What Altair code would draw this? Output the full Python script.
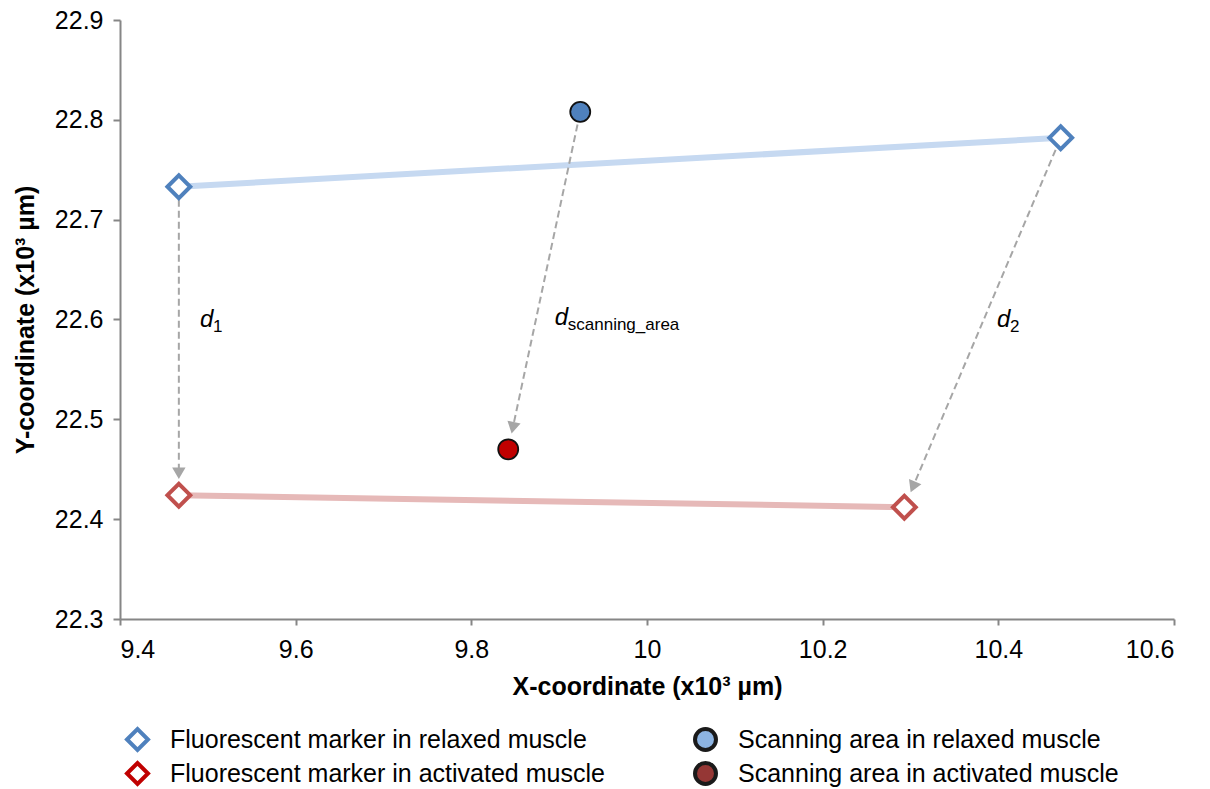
import math

import altair as alt
import pandas as pd

FONT = "Liberation Sans"

# Fluorescent marker positions (x10^3 µm)
relaxed_x = [9.467, 10.471]
relaxed_y = [22.733, 22.782]
activated_x = [9.467, 10.293]
activated_y = [22.424, 22.412]

# Scanning area centre: relaxed, activated
scan_x = [9.924, 9.842]
scan_y = [22.808, 22.470]

# Displacement labels (italic d + subscript)
label_x = [9.491, 9.895, 10.3985]
label_y = [22.592, 22.594, 22.592]
label_sub = ["1", "scanning_area", "2"]

# Legend entries; the legend grid fills column by column
legend_names = [
    "Fluorescent marker in relaxed muscle",
    "Fluorescent marker in activated muscle",
    "Scanning area in relaxed muscle",
    "Scanning area in activated muscle",
]
legend_shape = ["diamond", "diamond", "circle", "circle"]
legend_fill = ["white", "white", "#8db4e2", "#953735"]
legend_stroke = ["#4f81bd", "#c00000", "#1a1a1a", "#1a1a1a"]
legend_width = [4, 4, 1.5, 1.5]

x_ticks = [9.4, 9.6, 9.8, 10.0, 10.2, 10.4, 10.6]
y_ticks = [22.3, 22.4, 22.5, 22.6, 22.7, 22.8, 22.9]

W, H = 1054, 599
X_DOM = (9.4, 10.6)
Y_DOM = (22.3, 22.9)
px_x = W / (X_DOM[1] - X_DOM[0])
px_y = H / (Y_DOM[1] - Y_DOM[0])

# Displacement arrows: relaxed -> activated, trimmed around the markers
arrow_from = [(relaxed_x[0], relaxed_y[0]), (scan_x[0], scan_y[0]), (relaxed_x[1], relaxed_y[1])]
arrow_to = [(activated_x[0], activated_y[0]), (scan_x[1], scan_y[1]), (activated_x[1], activated_y[1])]
START_GAP, TIP_GAP, HEAD = 13, 16, 12

rows_line, rows_head = [], []
for (x0, y0), (x1, y1) in zip(arrow_from, arrow_to):
    dxp = (x1 - x0) * px_x
    dyp = -(y1 - y0) * px_y
    length = math.hypot(dxp, dyp)
    ux, uy = dxp / length, dyp / length

    def along(d):
        return x0 + ux * d / px_x, y0 - uy * d / px_y

    ax, ay = along(START_GAP)
    bx, by = along(length - TIP_GAP - HEAD * 0.7)
    hx, hy = along(length - TIP_GAP - HEAD / 2)
    rows_line.append({"x": ax, "y": ay, "x2": bx, "y2": by})
    rows_head.append({"x": hx, "y": hy, "angle": math.degrees(math.atan2(ux, -uy)) % 360})

df_relaxed = pd.DataFrame({"x": relaxed_x, "y": relaxed_y})
df_activated = pd.DataFrame({"x": activated_x, "y": activated_y})
df_scan_rel = pd.DataFrame({"x": scan_x[:1], "y": scan_y[:1]})
df_scan_act = pd.DataFrame({"x": scan_x[1:], "y": scan_y[1:]})
df_lines = pd.DataFrame(rows_line)
df_heads = pd.DataFrame(rows_head)
df_labels = pd.DataFrame({"x": label_x, "y": label_y, "d": ["d"] * 3, "sub": label_sub})
df_legend = pd.DataFrame({"x": [X_DOM[0]] * 4, "y": [Y_DOM[0]] * 4, "name": legend_names})

x_enc = alt.X(
    "x:Q",
    scale=alt.Scale(domain=list(X_DOM), nice=False, zero=False),
    axis=alt.Axis(
        values=x_ticks, format="~f", title="X-coordinate (x10³ µm)",
        titleFontWeight="bold", titleFontSize=25, titlePadding=12,
        labelFontSize=25, labelPadding=12, tickSize=6,
    ),
)
y_enc = alt.Y(
    "y:Q",
    scale=alt.Scale(domain=list(Y_DOM), nice=False, zero=False),
    axis=alt.Axis(
        values=y_ticks, format=".1f", title="Y-coordinate (x10³ µm)",
        titleFontWeight="bold", titleFontSize=25, titlePadding=16,
        labelFontSize=25, labelPadding=10, tickSize=7,
    ),
)

base_xy = dict(x=x_enc, y=y_enc)

line_rel = alt.Chart(df_relaxed).mark_line(color="#c6d9f1", strokeWidth=6).encode(**base_xy)
line_act = alt.Chart(df_activated).mark_line(color="#e6b9b8", strokeWidth=6).encode(**base_xy)

arrows = alt.Chart(df_lines).mark_rule(
    color="#a6a6a6", strokeWidth=2, strokeDash=[7, 4]
).encode(x="x:Q", y="y:Q", x2="x2:Q", y2="y2:Q")

heads = alt.Chart(df_heads).mark_point(
    shape="triangle-up", filled=True, color="#a6a6a6", size=180, opacity=1
).encode(x="x:Q", y="y:Q", angle=alt.Angle("angle:Q", scale=None))

diam_rel = alt.Chart(df_relaxed).mark_point(
    shape="diamond", filled=True, fill="white", stroke="#4f81bd", strokeWidth=4, size=520, opacity=1
).encode(x="x:Q", y="y:Q")
diam_act = alt.Chart(df_activated).mark_point(
    shape="diamond", filled=True, fill="white", stroke="#c0504d", strokeWidth=4, size=520, opacity=1
).encode(x="x:Q", y="y:Q")

circ_rel = alt.Chart(df_scan_rel).mark_point(
    shape="circle", filled=True, fill="#4f81bd", stroke="#111111", strokeWidth=1.8, size=400, opacity=1
).encode(x="x:Q", y="y:Q")
circ_act = alt.Chart(df_scan_act).mark_point(
    shape="circle", filled=True, fill="#c00000", stroke="#111111", strokeWidth=1.8, size=400, opacity=1
).encode(x="x:Q", y="y:Q")

d_text = alt.Chart(df_labels).mark_text(
    font=FONT, fontSize=24, fontStyle="italic", align="left", baseline="alphabetic", color="black"
).encode(x="x:Q", y="y:Q", text="d:N")
sub_text = alt.Chart(df_labels).mark_text(
    font=FONT, fontSize=17, align="left", baseline="alphabetic", dx=13, dy=5, color="black"
).encode(x="x:Q", y="y:Q", text="sub:N")

leg = alt.Legend(
    title=None, orient="none", legendX=5, legendY=707, columns=2,
    columnPadding=82, rowPadding=-3, labelFontSize=25, labelFont=FONT,
    labelColor="black", labelLimit=0, labelOffset=20, symbolOpacity=1,
    symbolSize=440,
)
legend_layer = alt.Chart(df_legend).mark_point(filled=True, opacity=0).encode(
    x="x:Q", y="y:Q",
    shape=alt.Shape("name:N", scale=alt.Scale(domain=legend_names, range=legend_shape), legend=leg),
    fill=alt.Fill("name:N", scale=alt.Scale(domain=legend_names, range=legend_fill), legend=leg),
    stroke=alt.Stroke("name:N", scale=alt.Scale(domain=legend_names, range=legend_stroke), legend=leg),
    strokeWidth=alt.StrokeWidth("name:N", scale=alt.Scale(domain=legend_names, range=legend_width), legend=leg),
)

chart = (
    alt.layer(
        legend_layer, line_rel, line_act, arrows, heads,
        diam_rel, diam_act, circ_rel, circ_act, d_text, sub_text,
    )
    .properties(
        width=W, height=H,
        autosize=alt.AutoSizeParams(type="none"),
        padding={"left": 120, "top": 20, "right": 36, "bottom": 170},
        background="white",
    )
    .configure_view(stroke=None)
    .configure_axis(
        grid=False, domainColor="#868686", domainWidth=2, tickColor="#868686", tickWidth=2,
        labelFont=FONT, titleFont=FONT, labelColor="black", titleColor="black",
    )
)

chart.save("out.html", embed_options={"renderer": "svg", "actions": False})
